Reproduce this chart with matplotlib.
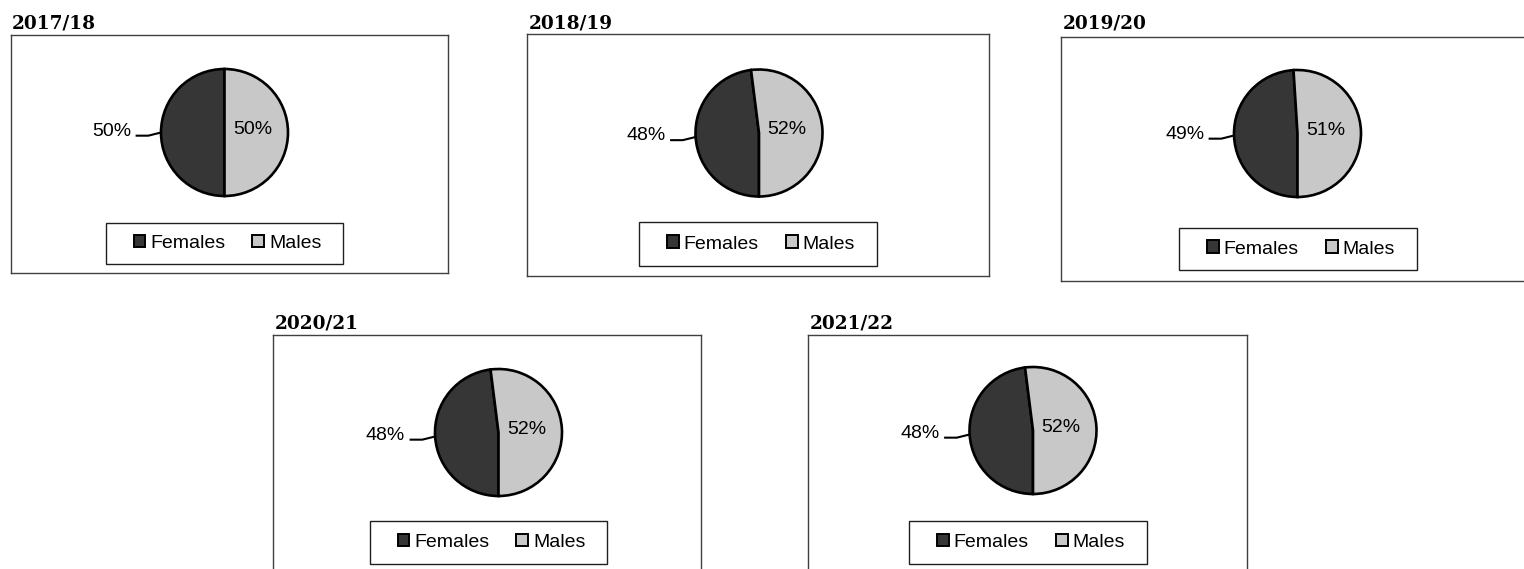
import numpy as np
import matplotlib
matplotlib.use("Agg")
import matplotlib.pyplot as plt
from matplotlib.patches import Patch, Rectangle

# ---- data ----
years = ["2017/18", "2018/19", "2019/20", "2020/21", "2021/22"]
females = [50, 48, 49, 48, 48]
males = [50, 52, 51, 52, 52]
categories = ["Females", "Males"]

# ---- style ----
colors = ["#363636", "#c8c8c8"]
W, H = 1524, 569
DPI = 100
SANS = "Liberation Sans"
FS = 14

# layout in pixels: box (x0, y0, x1, y1), pie center, legend box, title position
boxes = [(11, 35, 448, 273), (527, 34, 989, 276), (1061, 37, 1560, 281),
         (273, 335, 701, 600), (808, 335, 1247, 600)]
centers = [(224.5, 132.5), (759, 133), (1297.5, 133.5), (498.5, 432.5), (1033, 430.5)]
legboxes = [(106, 222.5, 343, 264), (639, 222, 877, 266), (1179, 228, 1417, 270),
            (370, 521, 607, 564), (909, 521, 1147, 564)]
titlepos = [(12, 28), (529, 28), (1063, 28), (275, 328), (810, 328)]
R = 63.5


def frect(x0, y0, x1, y1):
    return [x0 / W, 1 - y1 / H, (x1 - x0) / W, (y1 - y0) / H]


fig = plt.figure(figsize=(W / DPI, H / DPI), dpi=DPI)
fig.patch.set_facecolor("white")

for i, yr in enumerate(years):
    # panel frame
    bax = fig.add_axes(frect(*boxes[i]))
    bax.set_xticks([])
    bax.set_yticks([])
    bax.patch.set_alpha(0)
    for s in bax.spines.values():
        s.set_color("#404040")
        s.set_linewidth(1.0)

    # title
    tx, ty = titlepos[i]
    fig.text(tx / W, 1 - ty / H, yr, fontsize=13.3, fontweight="bold",
             family="DejaVu Serif", ha="left", va="baseline")

    # pie
    cx, cy = centers[i]
    k = 1.05
    pax = fig.add_axes(frect(cx - k * R, cy - k * R, cx + k * R, cy + k * R))
    vals = [females[i], males[i]]
    pax.pie(vals, colors=colors, startangle=270, counterclock=False, radius=1.0,
            wedgeprops=dict(edgecolor="black", linewidth=1.9))
    pax.set_xlim(-k, k)
    pax.set_ylim(-k, k)
    pax.set_aspect("equal")
    pax.axis("off")

    # Females label outside with leader line
    mid = np.radians(270 - females[i] * 1.8)
    ex, ey = np.cos(mid), np.sin(mid)
    ly = ey - 0.05
    pax.text(-1.47, ly, f"{females[i]}%", ha="right", va="baseline",
             fontsize=FS, family=SANS, color="black")
    pax.plot([-1.40, -1.20, ex], [ly, ly, ey], color="black", lw=1.5,
             clip_on=False, solid_capstyle="butt")
    # Males label inside
    pax.text(0.44, 0.05, f"{males[i]}%", ha="center", va="center",
             fontsize=FS, family=SANS, color="black")

    # legend frame + legend
    lx0, ly0, lx1, ly1 = legboxes[i]
    fig.patches.append(Rectangle((lx0 / W, 1 - ly1 / H), (lx1 - lx0) / W, (ly1 - ly0) / H,
                                 transform=fig.transFigure, fill=False,
                                 edgecolor="#202020", linewidth=1.0))
    handles = [Patch(facecolor=colors[j], edgecolor="black", linewidth=1.4, label=categories[j])
               for j in range(2)]
    lcx = (lx0 + lx1) / 2 + 3
    lcy = (ly0 + ly1) / 2
    fig.legend(handles=handles, loc="center", bbox_to_anchor=(lcx / W, 1 - lcy / H),
               bbox_transform=fig.transFigure, ncol=2, frameon=False,
               prop=dict(family=SANS, size=FS), handlelength=0.6, handleheight=0.6,
               handletextpad=0.25, columnspacing=1.4, borderpad=0.0)

fig.savefig("out.png", dpi=DPI, facecolor="white")
